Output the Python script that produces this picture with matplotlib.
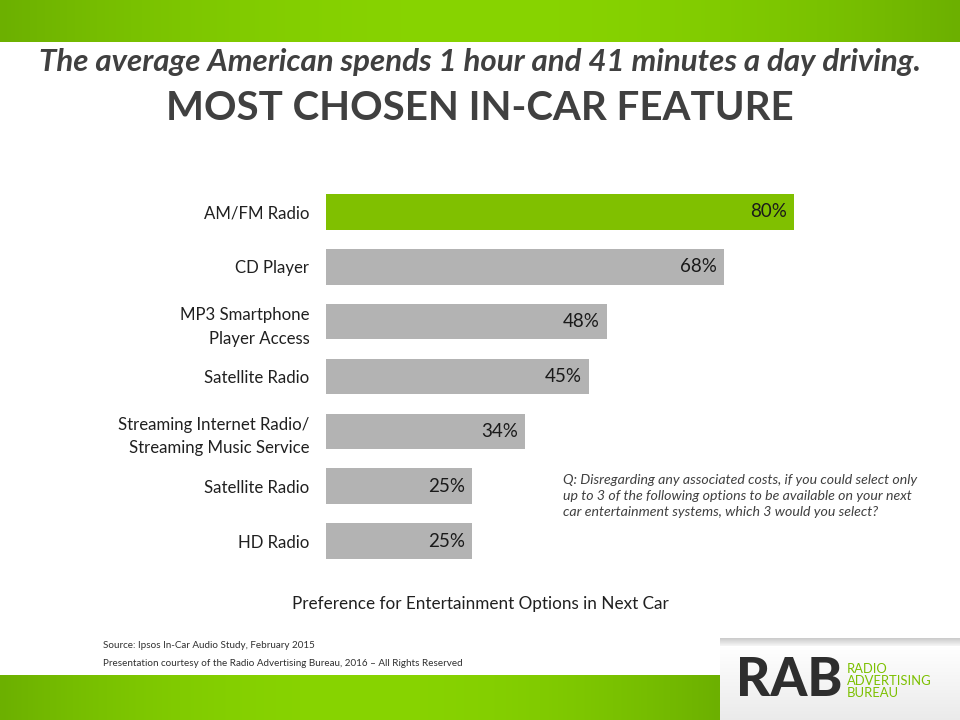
import numpy as np
import matplotlib
matplotlib.use("Agg")
import matplotlib.pyplot as plt

categories = ["AM/FM Radio", "CD Player", "MP3 Smartphone\nPlayer Access", "Satellite Radio",
              "Streaming Internet Radio/\nStreaming Music Service", "Satellite Radio", "HD Radio"]
values = [80, 68, 48, 45, 34, 25, 25]
value_labels = ["80%", "68%", "48%", "45%", "34%", "25%", "25%"]

FONT = "Lato"
DARK = "#404040"
W, H = 960, 720
fig = plt.figure(figsize=(9.6, 7.2), dpi=100)

def fx(px): return px / W
def fy(py): return 1 - py / H

# background decorations
bg = fig.add_axes([0, 0, 1, 1], zorder=0)
bg.axis("off")
grad = np.linspace(0, 1, 256)
prof = 1 - (2 * grad - 1) ** 2
c_edge = np.array([0x6c, 0xb0, 0x00]) / 255
c_mid = np.array([0x88, 0xd4, 0x00]) / 255
img = c_edge[None, :] + (c_mid - c_edge)[None, :] * prof[:, None]
bg.imshow(img[None, :, :], extent=[0, W, 42, 0], aspect="auto", zorder=1)
bg.imshow(img[None, :, :], extent=[0, 720, 720, 675], aspect="auto", zorder=1)
sh = np.linspace(0.80, 1.0, 10)
bg.imshow(np.stack([sh, sh, sh], axis=1)[:, None, :], extent=[720, W, 648, 638], aspect="auto", zorder=2)
box = np.linspace(1.0, 0.92, 64)
bg.imshow(np.stack([box, box, box], axis=1)[:, None, :], extent=[720, W, 720, 646], aspect="auto", zorder=2)
bg.set_xlim(0, W); bg.set_ylim(H, 0)

# chart axes
x0, px_per = 326, 5.85
ax = fig.add_axes([fx(x0), fy(568.5), fx(100 * px_per), (568.5 - 184.5) / H], zorder=3)
ax.patch.set_alpha(0)
y = np.arange(len(categories))
colors = ["#80c000"] + ["#b3b3b3"] * (len(categories) - 1)
ax.barh(y, values, height=0.65, color=colors)
ax.set_xlim(0, 100)
ax.set_ylim(len(categories) - 0.5, -0.5)
for s in ax.spines.values():
    s.set_visible(False)
ax.set_xticks([])
ax.set_yticks(y)
ax.set_yticklabels(categories, fontsize=12.1, color="#202020", family=FONT, linespacing=1.58)
ax.tick_params(axis="y", length=0, pad=12)
for yi, v, lab in zip(y, values, value_labels):
    ax.text(v - 1.2, yi, lab, ha="right", va="center", fontsize=13.5, color="#1a1a1a", family=FONT)

# titles
fig.text(0.5, fy(62), "The average American spends 1 hour and 41 minutes a day driving.",
         ha="center", va="center", fontsize=22.5, fontstyle="italic", fontweight="bold",
         color=DARK, family=FONT)
fig.text(0.5, fy(108), "MOST CHOSEN IN-CAR FEATURE", ha="center", va="center",
         fontsize=29, fontweight="bold", color=DARK, family=FONT)

fig.text(0.5, fy(604), "Preference for Entertainment Options in Next Car", ha="center", va="center",
         fontsize=12.3, color="#202020", family=FONT)

fig.text(fx(563), fy(496), "Q: Disregarding any associated costs, if you could select only\n"
         "up to 3 of the following options to be available on your next\n"
         "car entertainment systems, which 3 would you select?",
         ha="left", va="center", fontsize=10.2, fontstyle="italic", color=DARK,
         family=FONT, linespacing=1.4)

fig.text(fx(103), fy(645), "Source: Ipsos In-Car Audio Study, February 2015", ha="left", va="center",
         fontsize=7.1, color="#303030", family=FONT)
fig.text(fx(103), fy(663), "Presentation courtesy of the Radio Advertising Bureau, 2016 \u2013 All Rights Reserved",
         ha="left", va="center", fontsize=7.1, color="#303030", family=FONT)

# logo
fig.text(fx(736), fy(681), "RAB", ha="left", va="center", fontsize=38, fontweight="black",
         color="#2e2e2e", family=FONT, zorder=5)
fig.text(fx(847), fy(681), "RADIO\nADVERTISING\nBUREAU", ha="left", va="center", fontsize=9.4,
         color="#7cc000", family=FONT, linespacing=0.98, zorder=5)

fig.savefig("out.png", dpi=100)
